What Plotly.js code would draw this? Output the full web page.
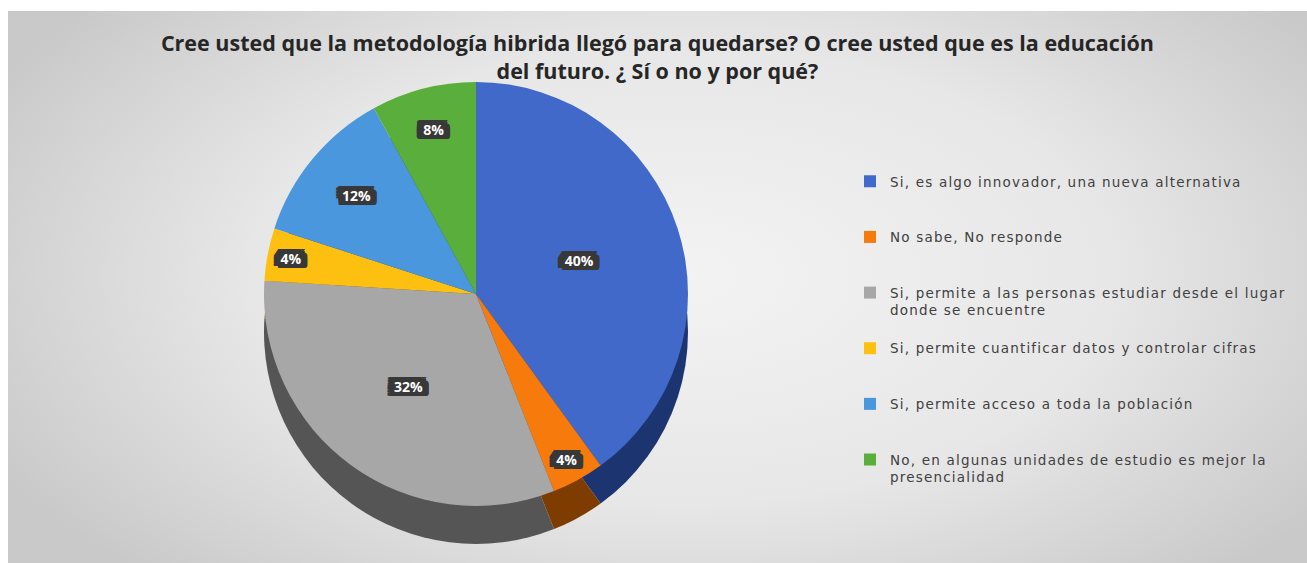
<!DOCTYPE html>
<html>
<head>
<meta charset="utf-8">
<script src="https://cdn.plot.ly/plotly-3.0.1.min.js"></script>
<style>
  html, body { margin: 0; padding: 0; background: #ffffff; }
  #wrap { position: relative; width: 1307px; height: 563px; overflow: hidden; }
  #bg { position: absolute; left: 8px; top: 11px; right: 0; bottom: 0;
        background: radial-gradient(ellipse 60% 75% at 52% 48%, #f3f3f3 0%, #e7e7e7 55%, #c9c9c9 100%); }
  #chart { position: absolute; left: 0; top: 0; width: 1307px; height: 563px; }
  .legendtext { letter-spacing: 1.2px; }
</style>
</head>
<body>
<div id="wrap"><div id="bg"></div><div id="chart"></div></div>
<script>
// ---- data ----
const categories = [
  "Si, es algo innovador, una nueva alternativa",
  "No sabe, No responde",
  "Si, permite a las personas estudiar desde el lugar<br>donde se encuentre",
  "Si, permite cuantificar datos y controlar cifras",
  "Si, permite acceso a toda la población",
  "No, en algunas unidades de estudio es mejor la<br>presencialidad"
];
const responses = [10, 1, 8, 1, 3, 2];   // 40%, 4%, 32%, 4%, 12%, 8%
const topColors  = ["#4169c9", "#f77b0c", "#a7a7a7", "#fdc010", "#4b97dd", "#5aae3c"];
const sideColors = ["#1c3470", "#7e3c00", "#555555", "#8a6800", "#23507f", "#2c6320"];
const titleText = "Cree usted que la metodología hibrida llegó para quedarse? O cree usted que es la educación<br>del futuro. ¿ Sí o no y por qué?";

// ---- layout helpers (pixel geometry -> paper fractions) ----
const W = 1307, H = 563;
const cx = 476, cy = 294, r = 212, depth = 38;
function dom(cxp, cyp) {
  return { x: [(cxp - r) / W, (cxp + r) / W], y: [1 - (cyp + r) / H, 1 - (cyp - r) / H] };
}
// legend labels padded with blank lines for spacing
const padded = categories.map(c => c + (c.includes("<br>") ? "<br> " : "<br> <br> "));

// dark label "box" made from a dense text shadow
const sh = [];
for (let dx = -7; dx <= 7; dx += 1.5) for (let dy = -5; dy <= 5; dy += 1.5) sh.push(dx + "px " + dy + "px 0 #383838");
sh.push("2px 2px 3px rgba(0,0,0,0.5)");

const sideTrace = {
  type: "pie", values: responses, labels: padded, sort: false,
  direction: "clockwise", rotation: 0,
  marker: { colors: sideColors, line: { width: 0 } },
  textinfo: "none", hoverinfo: "skip", showlegend: false,
  domain: dom(cx, cy + depth)
};
const faceTrace = {
  type: "pie", values: responses, labels: padded, sort: false,
  direction: "clockwise", rotation: 0,
  marker: { colors: topColors, line: { width: 0 } },
  textinfo: "percent", texttemplate: "%{percent:.0%}",
  textposition: "inside", insidetextorientation: "horizontal",
  textfont: { color: "#ffffff", size: 14, family: "Open Sans", weight: "bold", shadow: sh.join(", ") },
  showlegend: true,
  domain: dom(cx, cy)
};

const layout = {
  width: W, height: H,
  margin: { l: 0, r: 0, t: 0, b: 0 },
  paper_bgcolor: "rgba(0,0,0,0)",
  plot_bgcolor: "rgba(0,0,0,0)",
  title: {
    text: titleText,
    x: 0.503, xanchor: "center", y: 1 - 51 / H, yanchor: "middle",
    font: { family: "Open Sans", size: 21.5, color: "#262626", weight: "bold" }
  },
  showlegend: true,
  legend: {
    x: 850 / W, xanchor: "left", y: 1 - 166 / H, yanchor: "top",
    valign: "top", bgcolor: "rgba(0,0,0,0)",
    font: { family: "DejaVu Sans", size: 13.5, color: "#404040" },
    itemwidth: 30, traceorder: "normal"
  },
  uniformtext: { minsize: 14, mode: "show" }
};

Plotly.newPlot("chart", [sideTrace, faceTrace], layout, { displayModeBar: false, staticPlot: true });
</script>
</body>
</html>
